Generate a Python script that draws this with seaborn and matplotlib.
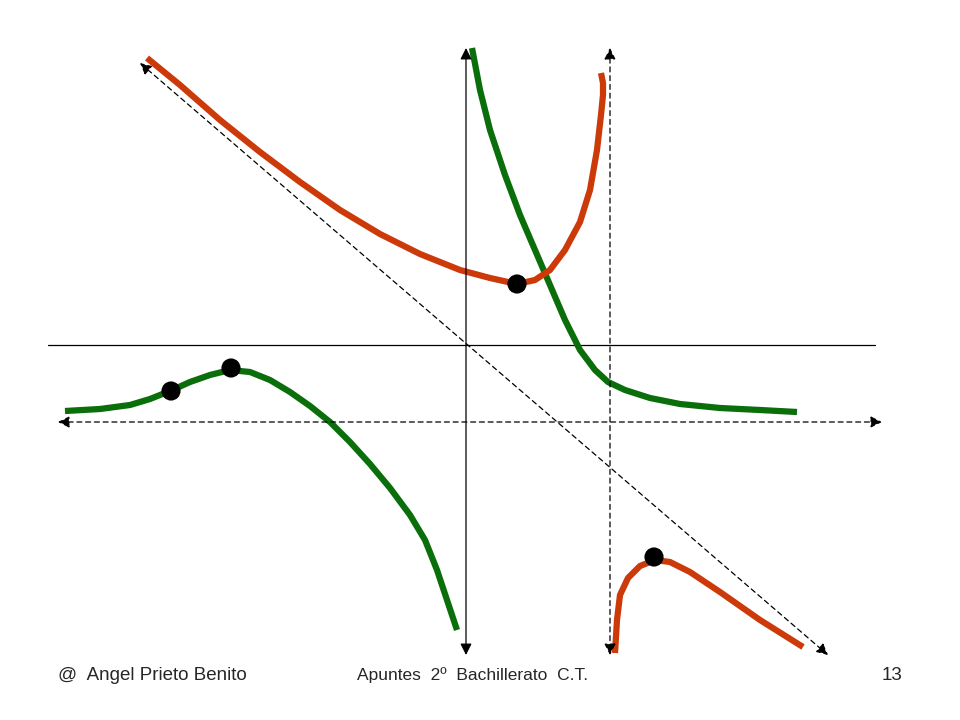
import pandas as pd
import matplotlib.pyplot as plt
import seaborn as sns

# Sketch of two rational-function graphs (green and red) with their asymptotes.
# Coordinates in pixel units (x right, y down).

green_upper_x = [472, 480, 490, 505, 520, 535, 550, 565, 580, 595, 608, 625, 650, 680, 720, 760, 797]
green_upper_y = [48, 90, 130, 175, 215, 250, 285, 320, 350, 370, 382, 390, 398, 404, 408, 410, 412]

green_left_x = [65, 100, 130, 150, 170, 190, 210, 230, 250, 270, 290, 310, 330, 350, 370, 390, 410, 425, 437, 447, 457]
green_left_y = [411, 409, 405, 399, 391, 382, 375, 370, 372, 380, 392, 406, 422, 442, 464, 488, 515, 540, 570, 600, 630]

red_upper_x = [147, 180, 220, 260, 300, 340, 380, 420, 460, 490, 517, 535, 550, 565, 580, 590, 597, 601, 603, 603, 601]
red_upper_y = [58, 85, 120, 152, 182, 210, 234, 254, 270, 278, 284, 280, 270, 250, 222, 190, 150, 115, 95, 83, 73]

red_lower_x = [615, 617, 620, 628, 640, 655, 670, 690, 720, 760, 803]
red_lower_y = [653, 620, 595, 578, 566, 560, 562, 572, 592, 620, 647]

dots_x = [517, 231, 171, 654]
dots_y = [284, 368, 391, 557]

# axes and asymptotes: (x0, y0, x1, y1)
x_axis = (48, 345, 875, 345)
y_axis = (466, 48, 466, 655)
vert_asym = (610, 48, 610, 655)
horiz_asym = (58, 422, 882, 422)
oblique_asym = (140, 63, 828, 655)

footer_left = "@  Angel Prieto Benito"
footer_mid = "Apuntes  2º  Bachillerato  C.T."
footer_page = "13"

GREEN = '#0a6e0a'
RED = '#cc3a0a'

sns.set_style("white")
plt.rcParams['font.family'] = ['Liberation Sans', 'DejaVu Sans']

fig = plt.figure(figsize=(9.6, 7.2), dpi=100)
ax = fig.add_axes([0, 0, 1, 1])

# x axis (plain line)
ax.plot([x_axis[0], x_axis[2]], [x_axis[1], x_axis[3]], color='black', linewidth=0.9)


def double_arrow(seg, dashed):
    style = dict(arrowstyle='<|-|>', color='black', linewidth=0.9,
                 mutation_scale=17, shrinkA=0, shrinkB=0)
    if dashed:
        style['linestyle'] = (0, (4, 3))
    ax.annotate('', xy=(seg[2], seg[3]), xytext=(seg[0], seg[1]), arrowprops=style)


double_arrow(y_axis, False)
double_arrow(vert_asym, True)
double_arrow(horiz_asym, True)
double_arrow(oblique_asym, True)

curves = [
    (green_upper_x, green_upper_y, GREEN),
    (green_left_x, green_left_y, GREEN),
    (red_upper_x, red_upper_y, RED),
    (red_lower_x, red_lower_y, RED),
]
for cx, cy, col in curves:
    df = pd.DataFrame({'x': cx, 'y': cy})
    # estimator=None so repeated x values are not averaged together
    sns.lineplot(data=df, x='x', y='y', sort=False, estimator=None, color=col,
                 linewidth=4.5, solid_capstyle='butt', solid_joinstyle='round', ax=ax)

dots = pd.DataFrame({'x': dots_x, 'y': dots_y})
sns.scatterplot(data=dots, x='x', y='y', color='black', s=190, edgecolor='none',
                zorder=5, ax=ax)

ax.set_xlim(0, 960)
ax.set_ylim(720, 0)
ax.axis('off')

ax.text(58, 675, footer_left, fontsize=13.5, va='center', ha='left')
ax.text(357, 675, footer_mid, fontsize=12.5, va='center', ha='left')
ax.text(902, 675, footer_page, fontsize=13.5, va='center', ha='right')

plt.savefig('out.png', dpi=100)
